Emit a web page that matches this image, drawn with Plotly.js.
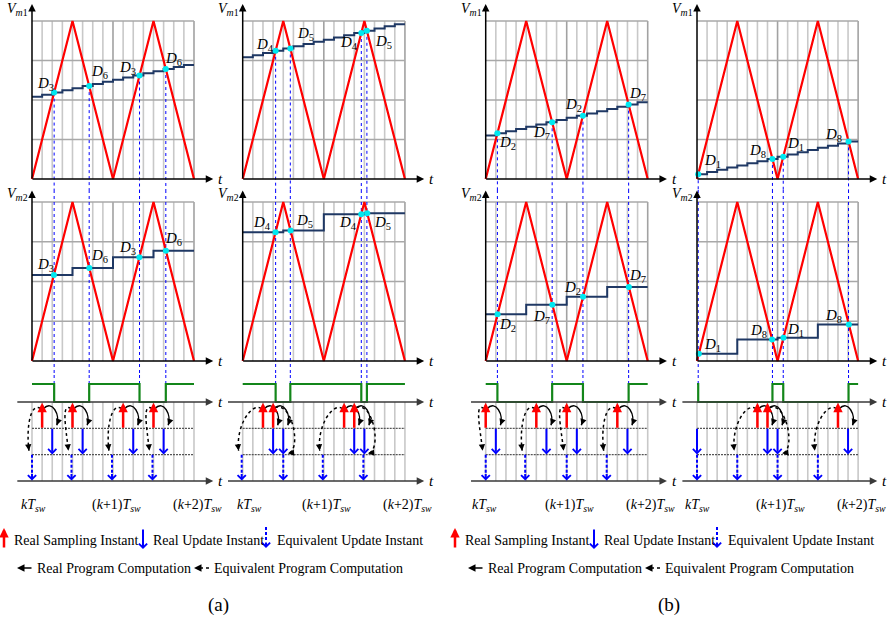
<!DOCTYPE html>
<html><head><meta charset="utf-8">
<script src="https://cdn.plot.ly/plotly-3.0.1.min.js"></script>
<style>html,body{margin:0;padding:0;background:#fff}#chart{width:891px;height:619px}</style>
</head><body><div id="chart"></div>
<script>
// ================= DATA =================
const gridT = [0,1,2,3,4,5,6,7,8,9,10,11,12,13,14,15,16];   // sub-intervals (Tsw/8)
const gridV = [0.25,0.5,0.75,1];
const midEdges = [0,4,8,12,16];
const carrierT = [0,4,8,12,16];
const carrierV = [0,1,0,1,0];

const vm1A = [0.52,0.534,0.547,0.561,0.574,0.588,0.601,0.615,0.628,0.642,0.655,0.669,0.682,0.696,0.709,0.722];
const vm2A = [0.541,0.585,0.652,0.694];
const vm1B = [0.77,0.784,0.798,0.812,0.826,0.84,0.854,0.868,0.882,0.896,0.91,0.924,0.938,0.952,0.966,0.98];
const vm2B = [0.81,0.82,0.923,0.93];
const vm1C = [0.275,0.289,0.303,0.317,0.331,0.345,0.359,0.373,0.387,0.401,0.415,0.429,0.443,0.457,0.471,0.485];
const vm2C = [0.294,0.354,0.404,0.465];
const vm1D = [0.03,0.044,0.058,0.072,0.086,0.1,0.113,0.127,0.141,0.155,0.169,0.183,0.197,0.211,0.225,0.238];
const vm2D = [0.046,0.136,0.147,0.23];

const dNamesA = ['3','6','3','6'];
const dNamesB = ['4','5','4','5'];
const dNamesC = ['2','7','2','7'];
const dNamesD = ['1','8','1','8'];

const sampA = [1,4,9,12],  realToA = [2,5,10,13], eqToA = [0,3.9,7.9,11.9];
const updA = [2,5,10,13],  eqA = [0,3.9,7.9,11.9];
const sampB = [2,3,10,11], realToB = [3,4,11,12], eqToB = [-0.1,4,7.9,11.9];
const updB = [3,4,11,12],  eqB = [-0.1,4,7.9,11.9];
const sampC = [0,5,8,13],  realToC = [1,6,9,14], eqToC = [0,3.9,8,11.95];
const updC = [1,6,9,14],   eqC = [0,3.9,8,11.95];
const sampD = [6,7,14],    realToD = [7,8,15], eqToD = [4,8,12];
const updD = [0,7,8,15],   eqD = [0,4,8,12];

const tickTimes = [0,8,16];
const tickTexts = ['<i>kT</i><sub><i>sw</i></sub>','(<i>k</i>+1)<i>T</i><sub><i>sw</i></sub>','(<i>k</i>+2)<i>T</i><sub><i>sw</i></sub>'];
const legendRow1 = ['Real Sampling Instant','Real Update Instant','Equivalent Update Instant'];
const legendRow2 = ['Real Program Computation','Equivalent Program Computation'];
const panelTags = ['(a)','(b)'];

// ================= STYLE / GEOMETRY =================
const W = 891, H = 619;
const FONT = 'Liberation Serif, Times New Roman, serif';
const RED = '#ff0000', NAVY = '#1f3864', CYAN = '#00e8f0', BLUE = '#0000ff', GREEN = '#13861a';
const PWM_HIGH = 0.684;
const XMIN = -1.8;
const colGeom = [
  {x0:32, w:10.125, xmax:19.0, k0:0.17},
  {x0:242.7, w:10.14, xmax:19.4, k0:0.64},
  {x0:485.7, w:10.125, xmax:19.0, k0:-0.15},
  {x0:697, w:10.07, xmax:19.1, k0:0.0}];
const rows = [
  {p0:0, p1:190, zero:179, unit:158},
  {p0:190, p1:375, zero:361, unit:159},
  {p0:375, p1:495, zero:402, unit:26.33}];
const labOff = [
  [[[-9,-9],[10,-14],[-12,-8],[8,-10]], [[-8,-10],[10,-12],[-12,-9],[8,-12]]],
  [[[-11,-6],[15,-14],[-12,10],[17,11]], [[-14,-9],[14,-10],[-13,9],[15,10]]],
  [[[10,10],[-11,11],[-9,-11],[9,-11]], [[10,11],[-11,12],[-11,-9],[9,-11]]],
  [[[14,-13],[-15,-8],[12,-13],[-15,-6]], [[14,-9],[-14,-8],[12,-8],[-15,-8]]]];

const columns = [
  {vm1:vm1A, vm2:vm2A, names:dNamesA, samp:sampA, realTo:realToA, eqTo:eqToA, upd:updA, eq:eqA},
  {vm1:vm1B, vm2:vm2B, names:dNamesB, samp:sampB, realTo:realToB, eqTo:eqToB, upd:updB, eq:eqB},
  {vm1:vm1C, vm2:vm2C, names:dNamesC, samp:sampC, realTo:realToC, eqTo:eqToC, upd:updC, eq:eqC},
  {vm1:vm1D, vm2:vm2D, names:dNamesD, samp:sampD, realTo:realToD, eqTo:eqToD, upd:updD, eq:eqD}];

const px2X = p => p / W, px2Y = p => 1 - p / H;
const yRange = r => [(r.zero - r.p1) / r.unit, (r.zero - r.p0) / r.unit];

function crossings(edges, levels) {
  const out = [];
  for (let i = 0; i < levels.length; i++) {
    const a = edges[i], b = edges[i + 1], m = levels[i];
    for (let j = 0; j < carrierT.length - 1; j++) {
      const t0 = carrierT[j], t1 = carrierT[j + 1], v0 = carrierV[j], v1 = carrierV[j + 1];
      const t = t0 + (m - v0) * (t1 - t0) / (v1 - v0);
      if (t >= Math.max(a, t0) && t < Math.min(b, t1)) out.push({t: t, v: m});
    }
  }
  return out.sort((p, q) => p.t - q.t);
}

function arrowAnn(xr, yr, tip, tail, color, width, head, size) {
  return {xref:xr, yref:yr, axref:xr, ayref:yr, x:tip[0], y:tip[1], ax:tail[0], ay:tail[1],
    text:'', showarrow:true, arrowhead:head, arrowsize:size, arrowwidth:width, arrowcolor:color,
    standoff:0, startstandoff:0, borderpad:0, font:{size:1}};
}
function textAnn(xr, yr, x, y, text, size, extra) {
  return Object.assign({xref:xr, yref:yr, x:x, y:y, text:text, showarrow:false,
    font:{family:FONT, size:size, color:'#000'}, xanchor:'center', yanchor:'middle'}, extra || {});
}

const data = [], shapes = [], ann = [];
const layout = {width:W, height:H, margin:{l:0,r:0,t:0,b:0}, showlegend:false,
  paper_bgcolor:'#fff', plot_bgcolor:'rgba(0,0,0,0)'};

columns.forEach((col, k) => {
  const g = colGeom[k];
  const xid = k === 0 ? 'x' : 'x' + (k + 1);
  const yids = [0,1,2].map(r => { const n = k + 1 + 4 * r; return n === 1 ? 'y' : 'y' + n; });
  layout[k === 0 ? 'xaxis' : 'xaxis' + (k + 1)] = {domain:[px2X(g.x0 + XMIN * g.w), px2X(g.x0 + g.xmax * g.w)],
    range:[XMIN, g.xmax], visible:false, fixedrange:true, anchor:yids[0]};
  const ranges = rows.map(yRange);
  rows.forEach((r, ri) => {
    const n = k + 1 + 4 * ri;
    layout[n === 1 ? 'yaxis' : 'yaxis' + n] = {domain:[px2Y(r.p1), px2Y(r.p0)], range:ranges[ri],
      visible:false, fixedrange:true, anchor:xid};
  });

  // grids of the two modulation panels
  for (let ri = 0; ri < 2; ri++) {
    gridT.slice(1).forEach(c => shapes.push({type:'line', layer:'below', xref:xid, yref:yids[ri],
      x0:c, x1:c, y0:0, y1:1, line:{color: c % 8 === 0 ? '#a2a2a2' : '#c8c8c8', width:1.6}}));
    gridV.forEach(v => shapes.push({type:'line', layer:'below', xref:xid, yref:yids[ri],
      x0:0, x1:16, y0:v, y1:v, line:{color:'#a8a8a8', width:1.5}}));
  }
  // grid of the timing panel
  gridT.forEach(c => shapes.push({type:'line', layer:'below', xref:xid, yref:yids[2],
    x0:c, x1:c, y0:0, y1:-3, line:{color:'#c8c8c8', width:1.6}}));
  [-1,-2].forEach(u => shapes.push({type:'line', layer:'below', xref:xid, yref:yids[2],
    x0:0, x1:16, y0:u, y1:u, line:{color:'#555', width:1.1, dash:'2px,1px'}}));

  const crTop = crossings(gridT, col.vm1);
  const crMid = crossings(midEdges, col.vm2);

  // dotted vertical lines
  const dl = [[], [], []], dy = [[], [], []];
  crTop.forEach(p => {
    dl[0].push(p.t, p.t, null); dy[0].push(p.v, ranges[0][0], null);
    dl[1].push(p.t, p.t, null); dy[1].push(ranges[1][1], ranges[1][0], null);
    dl[2].push(p.t, p.t, null); dy[2].push(ranges[2][1], PWM_HIGH, null);
  });
  [0,1,2].forEach(ri => data.push({type:'scatter', mode:'lines', x:dl[ri], y:dy[ri], xaxis:xid, yaxis:yids[ri],
    line:{color:BLUE, width:1, dash:'dot'}, hoverinfo:'skip'}));

  // carriers, staircases, crossing dots
  [[col.vm1, gridT, crTop], [col.vm2, midEdges, crMid]].forEach(([lev, edges, cr], ri) => {
    data.push({type:'scatter', mode:'lines', x:carrierT, y:carrierV, xaxis:xid, yaxis:yids[ri],
      line:{color:RED, width:2.2}, hoverinfo:'skip'});
    data.push({type:'scatter', mode:'lines', x:edges, y:lev.concat([lev[lev.length - 1]]), xaxis:xid, yaxis:yids[ri],
      line:{color:NAVY, width:2, shape:'hv'}, hoverinfo:'skip'});
    data.push({type:'scatter', mode:'markers', x:cr.map(p => p.t), y:cr.map(p => p.v), xaxis:xid, yaxis:yids[ri],
      marker:{color:CYAN, size:6}, hoverinfo:'skip', cliponaxis:false});
    cr.forEach((p, i) => {
      const o = labOff[k][ri][i];
      ann.push(textAnn(xid, yids[ri], p.t, p.v, '<i>D</i><sub>' + col.names[i] + '</sub>', 15,
        {xshift:o[0], yshift:-o[1]}));
    });
  });

  // PWM signal
  let s = col.vm1[0] > carrierV[0] ? PWM_HIGH : 0;
  const px = [0], py = [s];
  crTop.forEach(p => { s = s ? 0 : PWM_HIGH; px.push(p.t); py.push(s); });
  px.push(16); py.push(s);
  data.push({type:'scatter', mode:'lines', x:px, y:py, xaxis:xid, yaxis:yids[2],
    line:{color:GREEN, width:2.2, shape:'hv'}, hoverinfo:'skip'});

  // axes with arrows
  ann.push(arrowAnn(xid, yids[0], [17.9, 0], [0, 0], '#000', 1.5, 2, 1.0));
  ann.push(arrowAnn(xid, yids[0], [0, (rows[0].zero - 4) / rows[0].unit], [0, 0], '#000', 1.5, 2, 1.0));
  ann.push(arrowAnn(xid, yids[1], [17.9, 0], [0, 0], '#000', 1.5, 2, 1.0));
  ann.push(arrowAnn(xid, yids[1], [0, (rows[1].zero - 190.5) / rows[1].unit], [0, 0], '#000', 1.5, 2, 1.0));
  ann.push(arrowAnn(xid, yids[2], [17.9, 0], [-1.5, 0], '#3a3a3a', 1.5, 2, 1.0));
  ann.push(arrowAnn(xid, yids[2], [17.9, -3], [-1.5, -3], '#3a3a3a', 1.5, 2, 1.0));
  [[0, 0], [1, 0], [2, 0], [2, -3]].forEach(([ri, y]) =>
    ann.push(textAnn(xid, yids[ri], 18.6, y, '<i>t</i>', 15)));
  ann.push(textAnn(xid, yids[0], -1.4, (rows[0].zero - 9) / rows[0].unit, '<i>V</i><sub><i>m</i>1</sub>', 14));
  ann.push(textAnn(xid, yids[1], -1.4, (rows[1].zero - 195) / rows[1].unit, '<i>V</i><sub><i>m</i>2</sub>', 14));

  // timing arrows
  const yl = yids[2];
  col.samp.forEach(c => ann.push(arrowAnn(xid, yl, [c, -0.03], [c, -1], RED, 2.5, 2, 0.75)));
  col.upd.forEach(c => ann.push(arrowAnn(xid, yl, [c, -1.99], [c, -1], BLUE, 2, 4, 0.8)));
  col.eq.forEach(c => {
    shapes.push({type:'line', xref:xid, yref:yl, x0:c, x1:c, y0:-2, y1:-2.75, line:{color:BLUE, width:2, dash:'3px,2px'}});
    ann.push(arrowAnn(xid, yl, [c, -2.98], [c, -2.72], BLUE, 2, 4, 0.8));
  });
  function curve(pts, dash) {
    const [p0, c1, c2, p3] = pts;
    shapes.push({type:'path', xref:xid, yref:yl,
      path:'M ' + p0.join(' ') + ' C ' + c1.join(' ') + ', ' + c2.join(' ') + ', ' + p3.join(' '),
      line:{color:'#000', width:1.5, dash:dash}, fillcolor:'rgba(0,0,0,0)'});
    const tail = [p3[0] + (c2[0] - p3[0]) * 0.25, p3[1] + (c2[1] - p3[1]) * 0.25];
    ann.push(arrowAnn(xid, yl, p3, tail, '#000', 1.4, 2, 0.9));
  }
  col.samp.forEach((sc, i) => {
    const u = col.realTo[i];
    curve([[sc + 0.15, -0.25], [sc + 1.0, 0.1], [u + 0.8, -0.5], [u + 0.45, -0.88]], 'solid');
    const e = col.eqTo[i];
    if (e <= sc) curve([[sc - 0.15, -0.25], [sc - 1.1, 0.0], [e - 0.6, -0.9], [e - 0.3, -1.85]], 'dot');
    else curve([[sc + 0.2, -0.2], [sc + 2.0, 0.0], [e + 1.8, -1.9], [e + 0.45, -1.95]], 'dot');
  });

  // time tick labels
  tickTimes.forEach((t, i) => ann.push(textAnn(xid, 'paper', t + (i === 0 ? g.k0 : 0.3), px2Y(505), tickTexts[i], 14)));
});

// legends and panel tags
[0, 451].forEach((dx, j) => {
  const X = p => px2X(p + dx);
  ann.push({xref:'paper', yref:'paper', x:X(4), y:px2Y(528), ax:0, ay:21, text:'', showarrow:true,
    arrowhead:2, arrowsize:0.75, arrowwidth:2.5, arrowcolor:RED, standoff:0, font:{size:1}});
  ann.push({xref:'paper', yref:'paper', x:X(143), y:px2Y(549), ax:0, ay:-21, text:'', showarrow:true,
    arrowhead:4, arrowsize:0.8, arrowwidth:2, arrowcolor:BLUE, standoff:0, font:{size:1}});
  shapes.push({type:'line', xref:'paper', yref:'paper', x0:X(266), x1:X(266), y0:px2Y(527), y1:px2Y(542),
    line:{color:BLUE, width:2, dash:'3px,2px'}});
  ann.push({xref:'paper', yref:'paper', x:X(266), y:px2Y(548), ax:0, ay:-7, text:'', showarrow:true,
    arrowhead:4, arrowsize:0.8, arrowwidth:2, arrowcolor:BLUE, standoff:0, font:{size:1}});
  [12, 151, 275].forEach((x, i) => ann.push(textAnn('paper', 'paper', X(x), px2Y(540), legendRow1[i], 14, {xanchor:'left'})));
  ann.push({xref:'paper', yref:'paper', x:X(17), y:px2Y(568), ax:16, ay:0, text:'', showarrow:true,
    arrowhead:2, arrowsize:1, arrowwidth:1.5, arrowcolor:'#000', standoff:0, font:{size:1}});
  shapes.push({type:'line', xref:'paper', yref:'paper', x0:X(200), x1:X(211), y0:px2Y(568), y1:px2Y(568),
    line:{color:'#000', width:1.5, dash:'dot'}});
  ann.push({xref:'paper', yref:'paper', x:X(194), y:px2Y(568), ax:6, ay:0, text:'', showarrow:true,
    arrowhead:2, arrowsize:1, arrowwidth:1.5, arrowcolor:'#000', standoff:0, font:{size:1}});
  [35, 212].forEach((x, i) => ann.push(textAnn('paper', 'paper', X(x), px2Y(568), legendRow2[i], 14, {xanchor:'left'})));
  ann.push(textAnn('paper', 'paper', X(218), px2Y(605), panelTags[j], 19));
});

layout.shapes = shapes;
layout.annotations = ann;
Plotly.newPlot('chart', data, layout, {staticPlot:true, displayModeBar:false});
</script></body></html>
